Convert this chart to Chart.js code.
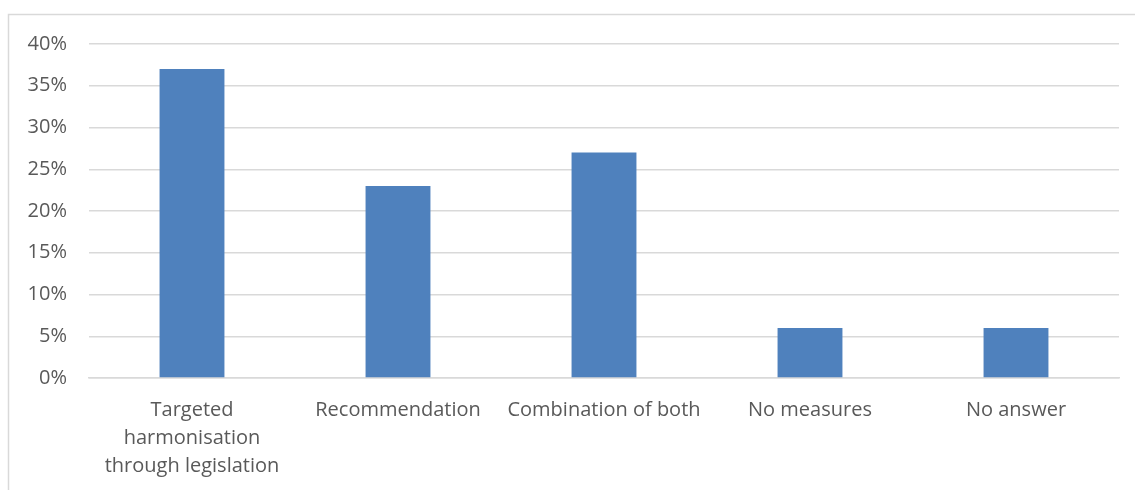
<!DOCTYPE html>
<html>
<head>
<meta charset="utf-8">
<script src="https://cdn.jsdelivr.net/npm/chart.js@4/dist/chart.umd.min.js"></script>
<style>
  html, body { margin: 0; padding: 0; background: #fff; }
  #wrap { position: relative; width: 1135px; height: 490px; }
</style>
</head>
<body>
<div id="wrap"><canvas id="chart" width="1135" height="490"></canvas></div>
<script>
const categories = [
  ['Targeted', 'harmonisation', 'through legislation'],
  'Recommendation',
  'Combination of both',
  'No measures',
  'No answer'
];
const shares = [37, 23, 27, 6, 6];

// light frame around the chart, as in the original export
const framePlugin = {
  id: 'frame',
  beforeDraw(chart) {
    const ctx = chart.ctx;
    ctx.save();
    ctx.strokeStyle = '#d9d9d9';
    ctx.lineWidth = 1.5;
    ctx.strokeRect(8.5, 14.5, 1140, 490);
    ctx.restore();
  }
};

new Chart(document.getElementById('chart'), {
  type: 'bar',
  data: {
    labels: categories,
    datasets: [{
      data: shares,
      backgroundColor: '#4f81bd',
      categoryPercentage: 1,
      barPercentage: 0.315
    }]
  },
  options: {
    responsive: false,
    animation: false,
    layout: { padding: { top: 44, right: 16, left: 0, bottom: 0 } },
    plugins: {
      legend: { display: false },
      tooltip: { enabled: false }
    },
    scales: {
      y: {
        min: 0,
        max: 40,
        ticks: {
          stepSize: 5,
          padding: 22,
          color: '#595959',
          font: { family: 'Open Sans', size: 20 },
          callback: v => v + '%'
        },
        grid: { color: '#d9d9d9', lineWidth: 1.5, drawTicks: false },
        border: { display: false },
        afterFit(scale) { scale.width = 89; }
      },
      x: {
        ticks: {
          color: '#595959',
          padding: 18,
          maxRotation: 0,
          autoSkip: false,
          font: { family: 'Open Sans', size: 20, lineHeight: 1.4 }
        },
        grid: { display: false, drawTicks: false },
        border: { color: '#d9d9d9', width: 1.5 },
        afterFit(scale) { scale.height = 112; }
      }
    }
  },
  plugins: [framePlugin]
});
</script>
</body>
</html>
